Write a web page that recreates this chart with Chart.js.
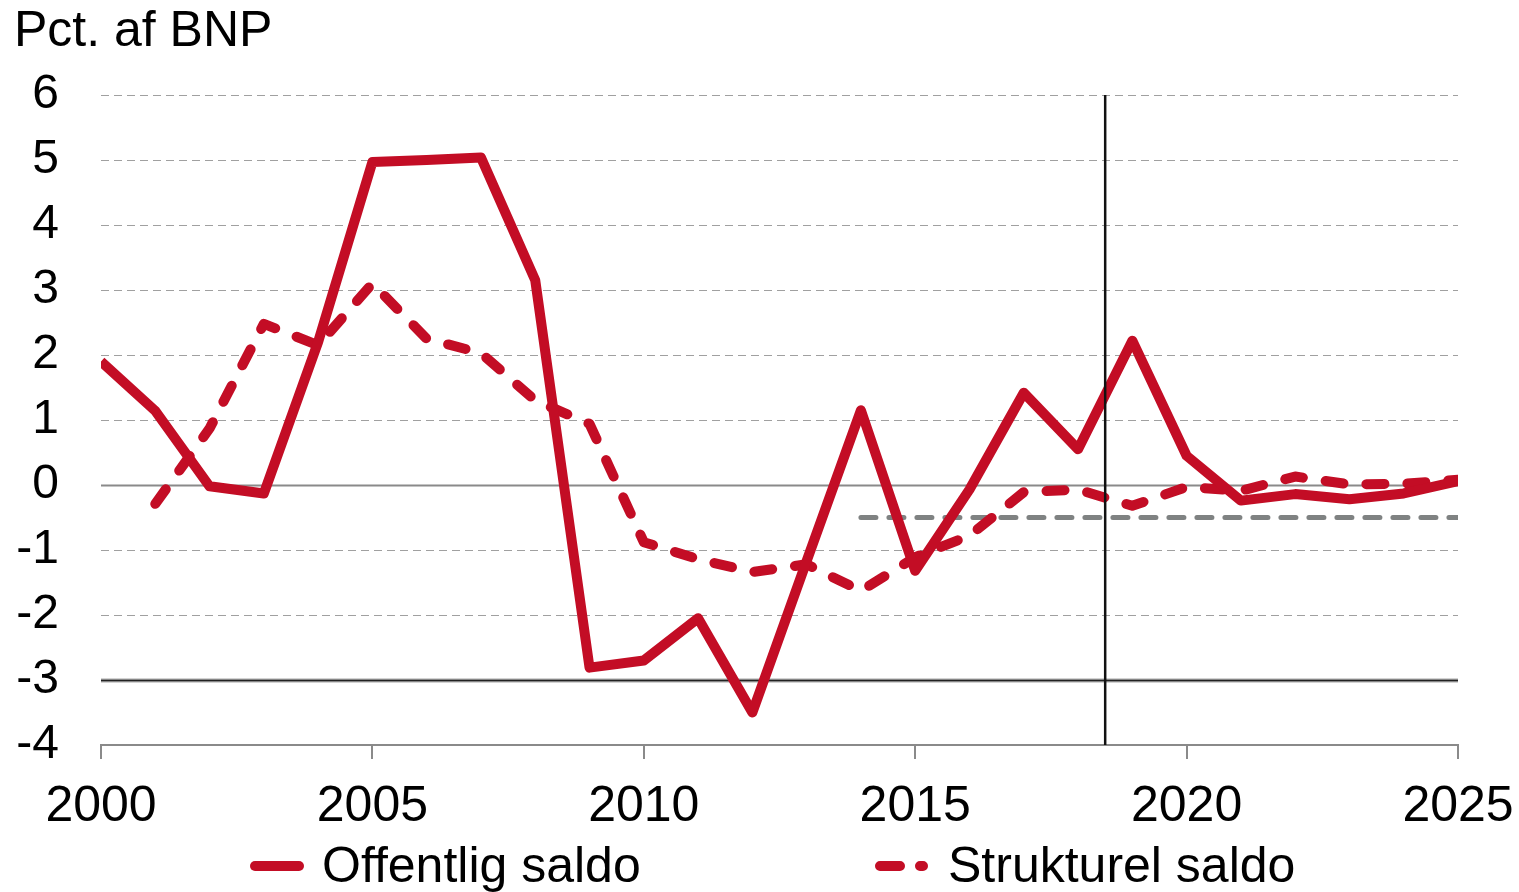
<!DOCTYPE html>
<html>
<head>
<meta charset="utf-8">
<script src="https://cdn.jsdelivr.net/npm/chart.js@4.4.1/dist/chart.umd.min.js"></script>
<style>
  html, body { margin: 0; padding: 0; background: #fff; }
  #wrap { width: 1519px; height: 892px; position: relative; }
</style>
</head>
<body>
<div id="wrap"><canvas id="saldo-chart"></canvas></div>
<script>
// Data
const years = [2000, 2001, 2002, 2003, 2004, 2005, 2006, 2007, 2008, 2009, 2010, 2011, 2012,
               2013, 2014, 2015, 2016, 2017, 2018, 2019, 2020, 2021, 2022, 2023, 2024, 2025];
const offentligSaldo = [1.9, 1.14, -0.02, -0.13, 2.2, 4.97, 5.0, 5.04, 3.15, -2.81, -2.7, -2.05, -3.5,
                        -1.17, 1.15, -1.32, -0.07, 1.42, 0.55, 2.22, 0.45, -0.24, -0.14, -0.22, -0.13, 0.06];
const strukturelSaldo = [null, -0.29, 0.87, 2.48, 2.15, 3.1, 2.25, 2.03, 1.3, 0.94, -0.88, -1.14, -1.34,
                         -1.22, -1.63, -1.11, -0.78, -0.11, -0.07, -0.32, -0.03, -0.09, 0.13, 0.01, 0.02, 0.08];
const maalYears = [2014, 2025];
const maalValues = [-0.5, -0.5];
const prognoseStart = 2018.5;
const yTicks = [6, 5, 4, 3, 2, 1, 0, -1, -2, -3, -4];
const xTicks = [2000, 2005, 2010, 2015, 2020, 2025];

const RED = '#C30D25';
const FONT = '"Liberation Sans", Arial, sans-serif';

const toPoints = (xs, ys) => xs.map((x, i) => ({ x: x, y: ys[i] }));

// Vandrette linjer, 0-linje, -3-linje, prognoselinje, titel og legend
const decorations = {
    id: 'decorations',
    beforeDatasetsDraw(chart) {
        const { ctx, chartArea, scales } = chart;
        ctx.save();
        yTicks.forEach(v => {
            if (v === -4) return;
            const y = Math.round(scales.y.getPixelForValue(v)) + 0.5;
            ctx.beginPath();
            if (v === 0) {
                ctx.setLineDash([]);
                ctx.strokeStyle = '#8a8a8a';
                ctx.lineWidth = 2;
            } else if (v === -3) {
                ctx.setLineDash([]);
                ctx.strokeStyle = '#a8a8a8';
                ctx.lineWidth = 4;
                ctx.moveTo(chartArea.left, y);
                ctx.lineTo(chartArea.right, y);
                ctx.stroke();
                ctx.beginPath();
                ctx.strokeStyle = '#222';
                ctx.lineWidth = 1.5;
            } else {
                ctx.setLineDash([8, 5]);
                ctx.strokeStyle = '#a0a0a0';
                ctx.lineWidth = 1.2;
            }
            ctx.moveTo(chartArea.left, y);
            ctx.lineTo(chartArea.right, y);
            ctx.stroke();
        });
        ctx.restore();
    },
    afterDatasetsDraw(chart) {
        const { ctx, chartArea, scales } = chart;
        ctx.save();
        const x = scales.x.getPixelForValue(prognoseStart);
        ctx.strokeStyle = '#111';
        ctx.lineWidth = 2.5;
        ctx.beginPath();
        ctx.moveTo(x, chartArea.top);
        ctx.lineTo(x, chartArea.bottom);
        ctx.stroke();
        ctx.restore();
    },
    afterDraw(chart) {
        const ctx = chart.ctx;
        ctx.save();
        ctx.fillStyle = '#000';
        ctx.textBaseline = 'alphabetic';
        ctx.font = '50px ' + FONT;
        ctx.fillText('Pct. af BNP', 14, 46);

        // legend
        const ly = 866;
        ctx.lineCap = 'round';
        ctx.strokeStyle = RED;
        ctx.lineWidth = 10;
        ctx.beginPath();
        ctx.moveTo(255, ly);
        ctx.lineTo(299, ly);
        ctx.stroke();
        ctx.setLineDash([20, 20]);
        ctx.beginPath();
        ctx.moveTo(880, ly);
        ctx.lineTo(923, ly);
        ctx.stroke();
        ctx.setLineDash([]);
        ctx.font = '50px ' + FONT;
        ctx.textBaseline = 'middle';
        ctx.fillText('Offentlig saldo', 322, ly + 2);
        ctx.fillText('Strukturel saldo', 948, ly + 2);
        ctx.restore();
    }
};

new Chart(document.getElementById('saldo-chart'), {
    type: 'line',
    data: {
        datasets: [
            {
                label: 'Offentlig saldo',
                data: toPoints(years, offentligSaldo),
                borderColor: RED,
                borderWidth: 10,
                pointRadius: 0,
                tension: 0,
                borderJoinStyle: 'round',
                borderCapStyle: 'butt',
                order: 1
            },
            {
                label: 'Strukturel saldo',
                data: toPoints(years, strukturelSaldo),
                borderColor: RED,
                borderWidth: 10,
                borderDash: [18, 23],
                borderCapStyle: 'round',
                borderJoinStyle: 'round',
                pointRadius: 0,
                tension: 0,
                spanGaps: false,
                order: 2
            },
            {
                label: 'Mål',
                data: toPoints(maalYears, maalValues),
                borderColor: '#7f8282',
                borderWidth: 5,
                borderDash: [15, 13],
                borderCapStyle: 'round',
                pointRadius: 0,
                order: 3
            }
        ]
    },
    options: {
        responsive: true,
        maintainAspectRatio: false,
        animation: false,
        layout: { padding: { top: 95, right: 61, bottom: 0, left: 0 } },
        plugins: {
            legend: { display: false },
            tooltip: { enabled: false }
        },
        scales: {
            x: {
                type: 'linear',
                min: 2000,
                max: 2025,
                afterBuildTicks: scale => { scale.ticks = xTicks.map(v => ({ value: v })); },
                afterFit: scale => {
                    scale.height = 147;
                    scale.paddingLeft = 0;
                    scale.paddingRight = 0;
                },
                grid: {
                    display: true,
                    drawOnChartArea: false,
                    drawTicks: true,
                    tickLength: 14,
                    color: '#8a8a8a',
                    lineWidth: 2
                },
                border: { display: true, color: '#8a8a8a', width: 2 },
                ticks: {
                    color: '#000',
                    padding: 18,
                    maxRotation: 0,
                    font: { family: FONT, size: 50 },
                    callback: v => String(v)
                }
            },
            y: {
                min: -4,
                max: 6,
                afterBuildTicks: scale => { scale.ticks = yTicks.map(v => ({ value: v })); },
                afterFit: scale => {
                    scale.width = 101;
                    scale.paddingTop = 0;
                    scale.paddingBottom = 0;
                },
                grid: { display: false, drawTicks: false },
                border: { display: false },
                ticks: {
                    color: '#000',
                    padding: 42,
                    font: { family: FONT, size: 48 }
                }
            }
        }
    },
    plugins: [decorations]
});
</script>
</body>
</html>
